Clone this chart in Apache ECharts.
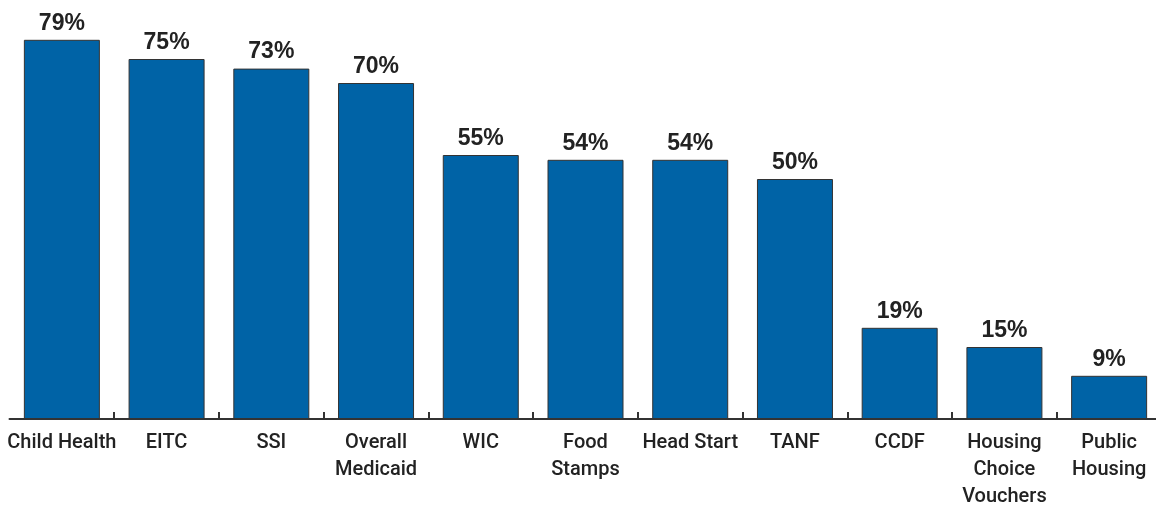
<!DOCTYPE html>
<html><head><meta charset="utf-8">
<script src="https://cdn.jsdelivr.net/npm/echarts@6/dist/echarts.min.js"></script>
<style>html,body{margin:0;padding:0;background:#fff}#c{width:1156px;height:505px}</style>
</head><body><div id="c"></div>
<script>
var categories = ["Child Health","EITC","SSI","Overall\nMedicaid","WIC","Food\nStamps","Head Start","TANF","CCDF","Housing\nChoice\nVouchers","Public\nHousing"];
var values = [79,75,73,70,55,54,54,50,19,15,9];
var chart = echarts.init(document.getElementById('c'));
chart.setOption({
  animation:false,
  grid:{left:9.5,right:-5.5,top:35,bottom:86,containLabel:false,outerBoundsMode:'none'},
  xAxis:{type:'category',data:categories,boundaryGap:true,
    axisLine:{lineStyle:{color:'#333',width:2}},
    axisTick:{show:true,inside:true,length:7,lineStyle:{color:'#333',width:2},interval:function(i){return i!==0;}},
    axisLabel:{interval:0,color:'#222',fontFamily:'Roboto,sans-serif',fontWeight:500,fontSize:20,lineHeight:27,margin:10}},
  yAxis:{type:'value',min:0,max:80,show:false,splitLine:{show:false}},
  series:[{type:'bar',data:values,barWidth:76,
    itemStyle:{color:'#0063a6',borderColor:'#333',borderWidth:1},
    label:{show:true,position:'top',distance:5,formatter:'{c}%',color:'#222',fontFamily:'"Liberation Sans",Arial,sans-serif',fontWeight:'bold',fontSize:23}}]
});
</script></body></html>
